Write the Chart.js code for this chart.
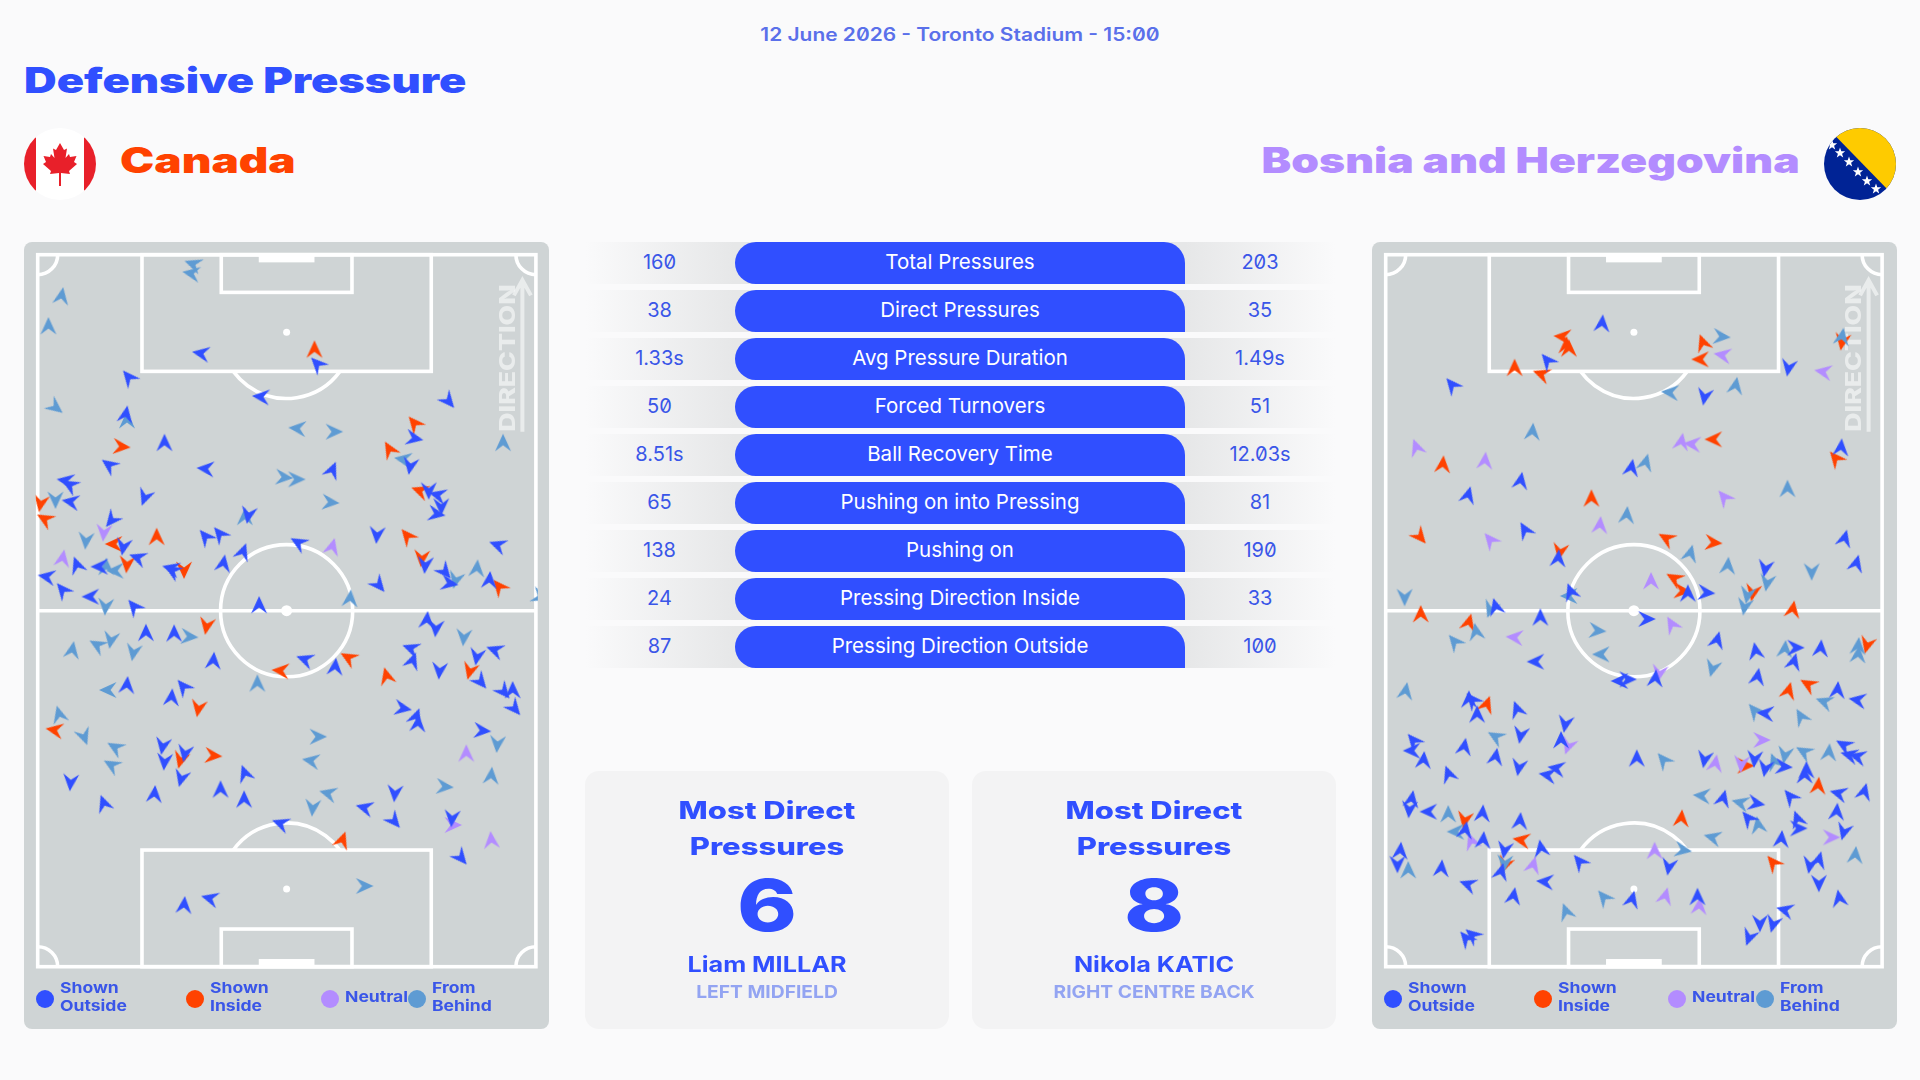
<!DOCTYPE html>
<html>
<head>
<meta charset="utf-8">
<title>Defensive Pressure</title>
<script src="https://cdn.jsdelivr.net/npm/chart.js@4"></script>
<style>
  html, body { margin: 0; padding: 0; width: 1920px; height: 1080px; overflow: hidden; background: #fafafb; font-family: 'Inter', sans-serif; font-feature-settings: 'zero'; }
  .txt { position: absolute; white-space: nowrap; }
  .date { left: 0; width: 1920px; top: 23px; line-height: 24px; text-align: center; font-size: 18px; font-weight: 600; color: #5a70ea; transform: scaleX(1.162); }
  .title { left: 24px; top: 58px; line-height: 44px; font-size: 35px; font-weight: 900; color: #304fff; transform-origin: left center; transform: scaleX(1.29); }
  .team { top: 138px; line-height: 44px; font-size: 35px; font-weight: 900; }
  .team.home { left: 120px; color: #ff4200; transform-origin: left center; transform: scaleX(1.31); }
  .team.away { right: 120.5px; color: #b38cff; transform-origin: right center; transform: scaleX(1.27); }
  .flag { position: absolute; top: 128px; width: 72px; height: 72px; }
  .panel { position: absolute; top: 242px; width: 525px; height: 787px; background: #cfd4d5; border-radius: 8px; }
  .panel canvas { position: absolute; left: 0; top: 0; }
  .dot { position: absolute; width: 18px; height: 18px; border-radius: 50%; top: 748px; }
  .lg { position: absolute; top: 737px; font-size: 15px; line-height: 18px; font-weight: 700; color: #3a56e8; white-space: nowrap; transform-origin: left center; transform: scaleX(1.17); }
  .lg.one { top: 746px; }
  .row { position: absolute; left: 585px; width: 750px; height: 42px; background: linear-gradient(90deg, rgba(232,233,234,0) 0, #e6e7e8 150px, #e6e7e8 600px, rgba(232,233,234,0) 750px); }
  .pill { position: absolute; left: 150px; width: 450px; height: 42px; line-height: 40px; text-align: center; background: #304fff; color: #fff; font-size: 20.5px; border-radius: 21px 21px 0 21px; }
  .val { position: absolute; top: 0; width: 120px; line-height: 40px; text-align: center; font-size: 20px; color: #3a56e8; }
  .card { position: absolute; top: 771px; width: 364px; height: 258px; background: #f3f3f4; border-radius: 14px; color: #304fff; text-align: center; }
  .card div { position: absolute; left: 0; width: 100%; white-space: nowrap; }
  .c-head { font-size: 24px; line-height: 36px; font-weight: 800; top: 22px; transform: scaleX(1.29); }
  .c-num { font-size: 72px; line-height: 80px; font-weight: 800; top: 94px; transform: scaleX(1.26); }
  .c-name { font-size: 21px; line-height: 28px; font-weight: 700; top: 180px; transform: scaleX(1.2); }
  .c-pos { font-size: 17.5px; line-height: 24px; font-weight: 700; top: 209px; color: #93a4f2; transform: scaleX(1.1); }
</style>
</head>
<body>
<div class="txt date">12 June 2026 - Toronto Stadium - 15:00</div>
<div class="txt title">Defensive Pressure</div>

<svg class="flag" style="left:24px" viewBox="0 0 72 72">
  <defs><clipPath id="cc"><circle cx="36" cy="36" r="36"/></clipPath></defs>
  <g clip-path="url(#cc)">
    <rect width="72" height="72" fill="#fff"/>
    <rect width="12" height="72" fill="#e8202a"/>
    <rect x="60" width="12" height="72" fill="#e8202a"/>
    <polygon fill="#e8202a" points="36,15 40,22 43,20.5 41.5,30 45,26 46,29 52.5,28 50,34 53,36 45,43 46,46 37,45 37,58 35,58 35,45 26,46 27,43 19,36 22,34 19.5,28 26,29 27,26 30.5,30 29,20.5 32,22"/>
  </g>
</svg>
<div class="txt team home">Canada</div>

<div class="txt team away">Bosnia and Herzegovina</div>
<svg class="flag" style="left:1824px" viewBox="0 0 72 72">
  <defs>
    <clipPath id="bc"><circle cx="36" cy="36" r="36"/></clipPath>
    <polygon id="star" fill="#fff" points="0,-5.5 1.3,-1.7 5.2,-1.7 2.1,0.7 3.2,4.5 0,2.2 -3.2,4.5 -2.1,0.7 -5.2,-1.7 -1.3,-1.7"/>
  </defs>
  <g clip-path="url(#bc)">
    <rect width="72" height="72" fill="#002395"/>
    <polygon fill="#fecb00" points="10,6.5 66,64 80,64 80,-5 10,-5"/>
    <use href="#star" x="8" y="17"/><use href="#star" x="16" y="25"/><use href="#star" x="25" y="34"/>
    <use href="#star" x="34" y="44"/><use href="#star" x="43" y="53"/><use href="#star" x="52" y="61"/>
  </g>
</svg>

<div class="panel" id="panelHome" style="left:24px"><canvas id="pitchHome" width="525" height="787"></canvas></div>
<div class="panel" id="panelAway" style="left:1372px"><canvas id="pitchAway" width="525" height="787"></canvas></div>
<div id="statRows"></div>

<div class="card" style="left:585px">
  <div class="c-head">Most Direct<br>Pressures</div>
  <div class="c-num">6</div>
  <div class="c-name">Liam MILLAR</div>
  <div class="c-pos">LEFT MIDFIELD</div>
</div>
<div class="card" style="left:972px">
  <div class="c-head">Most Direct<br>Pressures</div>
  <div class="c-num">8</div>
  <div class="c-name">Nikola KATIC</div>
  <div class="c-pos">RIGHT CENTRE BACK</div>
</div>

<script>
const statLabels = ['Total Pressures', 'Direct Pressures', 'Avg Pressure Duration', 'Forced Turnovers', 'Ball Recovery Time', 'Pushing on into Pressing', 'Pushing on', 'Pressing Direction Inside', 'Pressing Direction Outside'];
const statsHome = ['160', '38', '1.33s', '50', '8.51s', '65', '138', '24', '87'];
const statsAway = ['203', '35', '1.49s', '51', '12.03s', '81', '190', '33', '100'];

const colors = { outside: '#304fff', inside: '#ff4200', neutral: '#b38cff', behind: '#5e9bd3' };

// each pressure is [x, y, heading in degrees], x and y are pitch tracking units
const homeOutside = [
  [562,400,280],[888,432,316],[730,530,275],[360,472,320],[352,583,10],[460,668,0],[305,735,306],[575,746,275],
  [1255,543,140],[1160,655,101],[1148,738,190],[930,750,23],[183,782,280],[195,795,300],[197,845,280],[405,832,200],
  [312,900,219],[695,885,190],[575,950,320],[615,942,320],[835,968,300],[1055,945,185],[1393,975,290],[1200,812,180],
  [1225,825,285],[1235,860,180],[1222,882,100],[345,980,190],[385,1013,290],[215,1035,340],[278,1040,270],[478,1045,285],
  [482,1052,300],[625,1030,10],[680,995,20],[1190,1035,185],[1245,1055,140],[1258,1090,100],[1370,1080,5],[1060,1095,140],
  [130,1070,280],[175,1110,320],[253,1130,270],[375,1160,320],[725,1155,0],[1195,1200,5],[1220,1225,185],[408,1238,0],
  [487,1240,0],[597,1322,5],[1150,1285,290],[1155,1322,20],[853,1318,290],[938,1340,5],[1335,1310,190],[1385,1290,290],
  [1230,1352,185],[1345,1385,140],[1410,1415,140],[1435,1410,0],[1440,1465,140],[355,1395,5],[513,1400,320],[480,1432,5],
  [1128,1465,100],[1165,1490,20],[1170,1510,5],[1350,1532,95],[455,1578,190],[517,1600,190],[460,1625,185],[507,1675,195],
  [197,1687,185],[432,1722,5],[685,1660,340],[617,1708,0],[683,1738,0],[290,1750,340],[1105,1720,185],[1020,1763,285],
  [1103,1803,140],[1265,1795,185],[1290,1913,140],[785,1810,290],[515,2055,5],[587,2035,285]
];
const homeInside = [
  [880,388,0],[1160,610,320],[340,680,95],[1090,688,330],[113,850,190],[125,897,300],[1175,812,290],[438,950,0],
  [318,972,270],[1140,948,320],[355,1033,185],[515,1050,180],[1180,1015,185],[1397,1100,320],[578,1218,190],[785,1352,275],
  [975,1313,300],[1315,1353,195],[1082,1368,345],[555,1465,190],[152,1530,280],[597,1607,95],[505,1620,195],[958,1860,20]
];
const homeNeutral = [
  [290,938,185],[175,1015,10],[930,980,15],[1305,1600,0],[1268,1815,90],[1375,1860,355]
];
const homeBehind = [
  [540,132,290],[535,160,280],[172,228,10],[135,318,0],[155,562,128],[355,600,0],[1408,668,0],[832,625,275],
  [935,635,90],[1128,718,280],[795,772,95],[830,778,90],[155,840,180],[925,847,95],[685,890,0],[240,962,185],
  [297,1040,0],[322,1052,270],[1335,1045,5],[1275,1080,195],[980,1135,5],[1512,1130,110],[295,1160,185],[1298,1252,185],
  [310,1260,190],[272,1275,300],[202,1290,10],[530,1250,95],[373,1297,190],[302,1410,270],[720,1390,0],[165,1483,345],
  [235,1550,160],[322,1582,300],[312,1635,300],[890,1550,90],[870,1622,280],[1392,1572,185],[1375,1667,5],[1245,1700,95],
  [918,1720,285],[875,1763,185],[1020,1998,90]
];

const awayOutside = [
  [678,310,5],[525,422,320],[258,495,320],[1200,443,190],[965,530,190],[1347,682,5],[760,743,10],[450,782,10],
  [303,825,15],[462,930,330],[555,1015,5],[1135,1045,190],[1357,955,15],[1390,1030,15],[918,1120,0],[970,1118,95],
  [590,1115,340],[505,1192,0],[803,1197,90],[380,1160,345],[1000,1260,15],[1108,1293,350],[1220,1283,90],[1290,1285,5],
  [1215,1325,15],[1113,1370,10],[1337,1410,5],[1393,1440,280],[1135,1480,275],[492,1325,270],[727,1383,270],[750,1378,90],
  [827,1375,5],[315,1440,320],[305,1438,0],[328,1483,0],[440,1468,340],[575,1512,190],[450,1545,190],[563,1560,0],
  [150,1562,320],[145,1592,270],[178,1620,5],[292,1580,10],[380,1610,10],[248,1662,340],[445,1642,190],[550,1645,280],
  [525,1665,280],[775,1615,0],[965,1618,190],[1105,1617,185],[1135,1645,190],[1187,1640,95],[1355,1575,300],[1370,1605,285],
  [1393,1610,285],[1250,1650,0],[1245,1665,0],[1340,1720,285],[1412,1715,15],[1205,1730,320],[1017,1735,15],[1110,1750,100],
  [1087,1795,320],[1335,1775,5],[1225,1797,340],[1228,1825,90],[1355,1835,195],[1180,1857,5],[1285,1920,15],[1260,1935,190],
  [1285,1990,180],[1342,2035,350],[1190,2070,285],[1120,2110,180],[1157,2112,195],[1090,2152,200],[145,1737,10],[138,1768,185],
  [192,1775,270],[343,1780,5],[448,1803,5],[295,1830,10],[345,1860,5],[113,1892,5],[105,1933,180],[228,1945,5],
  [405,1890,190],[507,1885,350],[395,1955,15],[615,1925,320],[865,1940,190],[518,1985,275],[302,1993,290],[430,2028,10],
  [762,2038,15],[945,2030,0],[297,2155,320],[315,2145,310]
];
const awayInside = [
  [567,350,275],[578,375,0],[585,385,0],[433,443,0],[508,462,290],[960,368,340],[953,418,270],[1350,365,190],
  [990,658,270],[232,733,5],[1332,715,320],[648,835,0],[168,950,140],[858,955,300],[990,968,95],[560,995,190],
  [880,1075,300],[903,1113,95],[1100,1118,190],[1212,1168,10],[170,1182,0],[305,1207,15],[1420,1275,195],[1200,1412,15],
  [1255,1393,300],[355,1453,20],[293,1800,190],[452,1860,280],[405,1935,200],[1157,1928,320],[1080,1637,90],[1283,1697,5],
  [900,1795,5]
];
const awayNeutral = [
  [158,682,340],[350,722,5],[1015,405,280],[1297,455,280],[900,665,10],[930,672,275],[1020,832,320],[672,915,5],
  [365,960,320],[815,1083,0],[873,1213,330],[433,1252,275],[583,1578,200],[312,1863,340],[485,1935,15],[825,1892,0],
  [855,2028,15],[950,2058,5],[838,1360,190],[1125,1560,90],[995,1630,10],[1068,1632,185],[1320,1852,90]
];
const awayBehind = [
  [1013,350,95],[1350,350,10],[868,517,275],[1052,497,10],[483,635,5],[800,727,15],[1197,806,0],[747,885,5],
  [925,1000,15],[1030,1037,5],[1140,1088,190],[1265,1055,180],[125,1132,180],[1085,1125,190],[1077,1160,190],[365,1168,200],
  [585,1128,270],[665,1232,95],[265,1265,320],[325,1235,350],[675,1303,270],[987,1345,195],[128,1413,10],[1190,1287,5],
  [1395,1278,5],[1395,1303,5],[1300,1445,290],[1105,1472,320],[1235,1490,330],[380,1550,300],[1190,1605,190],[1243,1595,300],
  [1313,1597,5],[850,1620,320],[1160,1625,340],[957,1727,275],[1065,1748,285],[1115,1815,350],[987,1852,285],[247,1782,0],
  [268,1835,270],[905,1890,100],[405,1930,185],[135,1950,0],[683,2032,320],[577,2075,340],[1387,1905,5]
];

function makeDart(color) {
  const c = document.createElement('canvas');
  c.width = 30;
  c.height = 30;
  const g = c.getContext('2d');
  g.fillStyle = color;
  g.beginPath();
  g.moveTo(15, 6);
  g.lineTo(23, 23.5);
  g.lineTo(15, 17.5);
  g.lineTo(7, 23.5);
  g.closePath();
  g.fill();
  return c;
}

const pitchMarkings = {
  id: 'pitchMarkings',
  beforeDatasetsDraw(chart, args, opts) {
    const { ctx, scales: { x, y } } = chart;
    const cx = opts.centre;
    const X = v => x.getPixelForValue(v);
    const Y = v => y.getPixelForValue(v);
    const top = 104, bottom = 2240, half = 1172;
    const radius = Math.abs(X(cx + 185) - X(cx));
    const corner = Math.abs(X(cx + 56) - X(cx));

    ctx.save();
    ctx.strokeStyle = '#fff';
    ctx.fillStyle = '#fff';
    ctx.lineWidth = 3.6;

    ctx.strokeRect(X(x.min), Y(top), X(x.max) - X(x.min), Y(bottom) - Y(top));
    ctx.beginPath();
    ctx.moveTo(X(x.min), Y(half));
    ctx.lineTo(X(x.max), Y(half));
    ctx.stroke();
    ctx.beginPath();
    ctx.arc(X(cx), Y(half), radius, 0, Math.PI * 2);
    ctx.stroke();
    ctx.beginPath();
    ctx.arc(X(cx), Y(half), 5.5, 0, Math.PI * 2);
    ctx.fill();

    [[top, 1], [bottom, -1]].forEach(([line, dir]) => {
      const boxY = line + dir * 350;
      const sixY = line + dir * 113;
      const spotY = line + dir * 233;
      const goalY = line + dir * 23;
      ctx.strokeRect(X(cx - 405), Y(line), X(cx + 405) - X(cx - 405), Y(boxY) - Y(line));
      ctx.strokeRect(X(cx - 183), Y(line), X(cx + 183) - X(cx - 183), Y(sixY) - Y(line));
      ctx.fillRect(X(cx - 78), Y(line), X(cx + 78) - X(cx - 78), Y(goalY) - Y(line));
      ctx.beginPath();
      ctx.arc(X(cx), Y(spotY), 3.5, 0, Math.PI * 2);
      ctx.fill();

      const a = Math.acos(Math.abs(Y(boxY) - Y(spotY)) / radius);
      const mid = dir > 0 ? Math.PI / 2 : -Math.PI / 2;
      ctx.beginPath();
      ctx.arc(X(cx), Y(spotY), radius, mid - a, mid + a);
      ctx.stroke();

      ctx.beginPath();
      ctx.arc(X(x.min), Y(line), corner, dir > 0 ? 0 : -Math.PI / 2, dir > 0 ? Math.PI / 2 : 0);
      ctx.stroke();
      ctx.beginPath();
      ctx.arc(X(x.max), Y(line), corner, dir > 0 ? Math.PI / 2 : Math.PI, dir > 0 ? Math.PI : Math.PI * 1.5);
      ctx.stroke();
    });

    // direction of play
    ctx.globalAlpha = 0.55;
    const ax = X(x.max) - 13.5;
    ctx.lineWidth = 4;
    ctx.beginPath();
    ctx.moveTo(ax, Y(635));
    ctx.lineTo(ax, Y(180));
    ctx.moveTo(ax - 8.5, Y(226));
    ctx.lineTo(ax, Y(180));
    ctx.lineTo(ax + 8.5, Y(226));
    ctx.stroke();
    ctx.translate(X(x.max) - 27, Y(635));
    ctx.rotate(-Math.PI / 2);
    ctx.scale(1.27, 1);
    ctx.font = '800 21px Inter';
    ctx.textAlign = 'left';
    ctx.textBaseline = 'middle';
    ctx.fillText('DIRECTION', 0, 0);
    ctx.restore();
  }
};

function series(label, pts, color) {
  return {
    label,
    data: pts.map(p => ({ x: p[0], y: p[1], heading: p[2] })),
    pointStyle: makeDart(color),
    pointRotation: c => (c.raw ? c.raw.heading : 0),
    pointRadius: 8,
    showLine: false,
    clip: 2,
  };
}

function buildPitch(id, xMin, xMax, centre, padLeft, padRight, sets) {
  new Chart(document.getElementById(id), {
    type: 'scatter',
    data: { datasets: sets },
    plugins: [pitchMarkings],
    options: {
      responsive: false,
      animation: false,
      layout: { padding: { left: padLeft, right: padRight, top: 12.7, bottom: 62.3 } },
      plugins: { legend: { display: false }, tooltip: { enabled: false }, pitchMarkings: { centre } },
      scales: {
        x: { type: 'linear', display: false, min: xMin, max: xMax },
        y: { type: 'linear', display: false, min: 104, max: 2240, reverse: true },
      }
    }
  });
}

function buildLegend(panelId, spots) {
  const panel = document.getElementById(panelId);
  const items = [
    ['Shown<br>Outside', colors.outside],
    ['Shown<br>Inside', colors.inside],
    ['Neutral', colors.neutral],
    ['From<br>Behind', colors.behind],
  ];
  items.forEach(([text, color], i) => {
    const dot = document.createElement('div');
    dot.className = 'dot';
    dot.style.left = spots[i][0] + 'px';
    dot.style.background = color;
    panel.appendChild(dot);
    const lab = document.createElement('div');
    lab.className = text.includes('<br>') ? 'lg' : 'lg one';
    lab.style.left = spots[i][1] + 'px';
    lab.innerHTML = text;
    panel.appendChild(lab);
  });
}

function buildStats() {
  const holder = document.getElementById('statRows');
  statLabels.forEach((label, i) => {
    const row = document.createElement('div');
    row.className = 'row';
    row.style.top = (241.5 + 48 * i) + 'px';
    row.innerHTML = `
      <div class="val" style="left:14.5px">${statsHome[i]}</div>
      <div class="pill">${label}</div>
      <div class="val" style="left:615px">${statsAway[i]}</div>
    `;
    holder.appendChild(row);
  });
}

document.addEventListener('DOMContentLoaded', () => {
  buildStats();
  buildLegend('panelHome', [[12, 35.6], [162, 186], [296.6, 320.6], [383.8, 408]]);
  buildLegend('panelAway', [[11.5, 35.5], [162, 185.5], [295.8, 320], [384, 407.6]]);
  buildPitch('pitchHome', 105, 1500, 802, 13.7, 13.1, [
    series('Shown Outside', homeOutside, colors.outside),
    series('From Behind', homeBehind, colors.behind),
    series('Neutral', homeNeutral, colors.neutral),
    series('Shown Inside', homeInside, colors.inside),
  ]);
  buildPitch('pitchAway', 72, 1462, 767, 13.7, 14.9, [
    series('Shown Outside', awayOutside, colors.outside),
    series('From Behind', awayBehind, colors.behind),
    series('Neutral', awayNeutral, colors.neutral),
    series('Shown Inside', awayInside, colors.inside),
  ]);
});
</script>
</body>
</html>
